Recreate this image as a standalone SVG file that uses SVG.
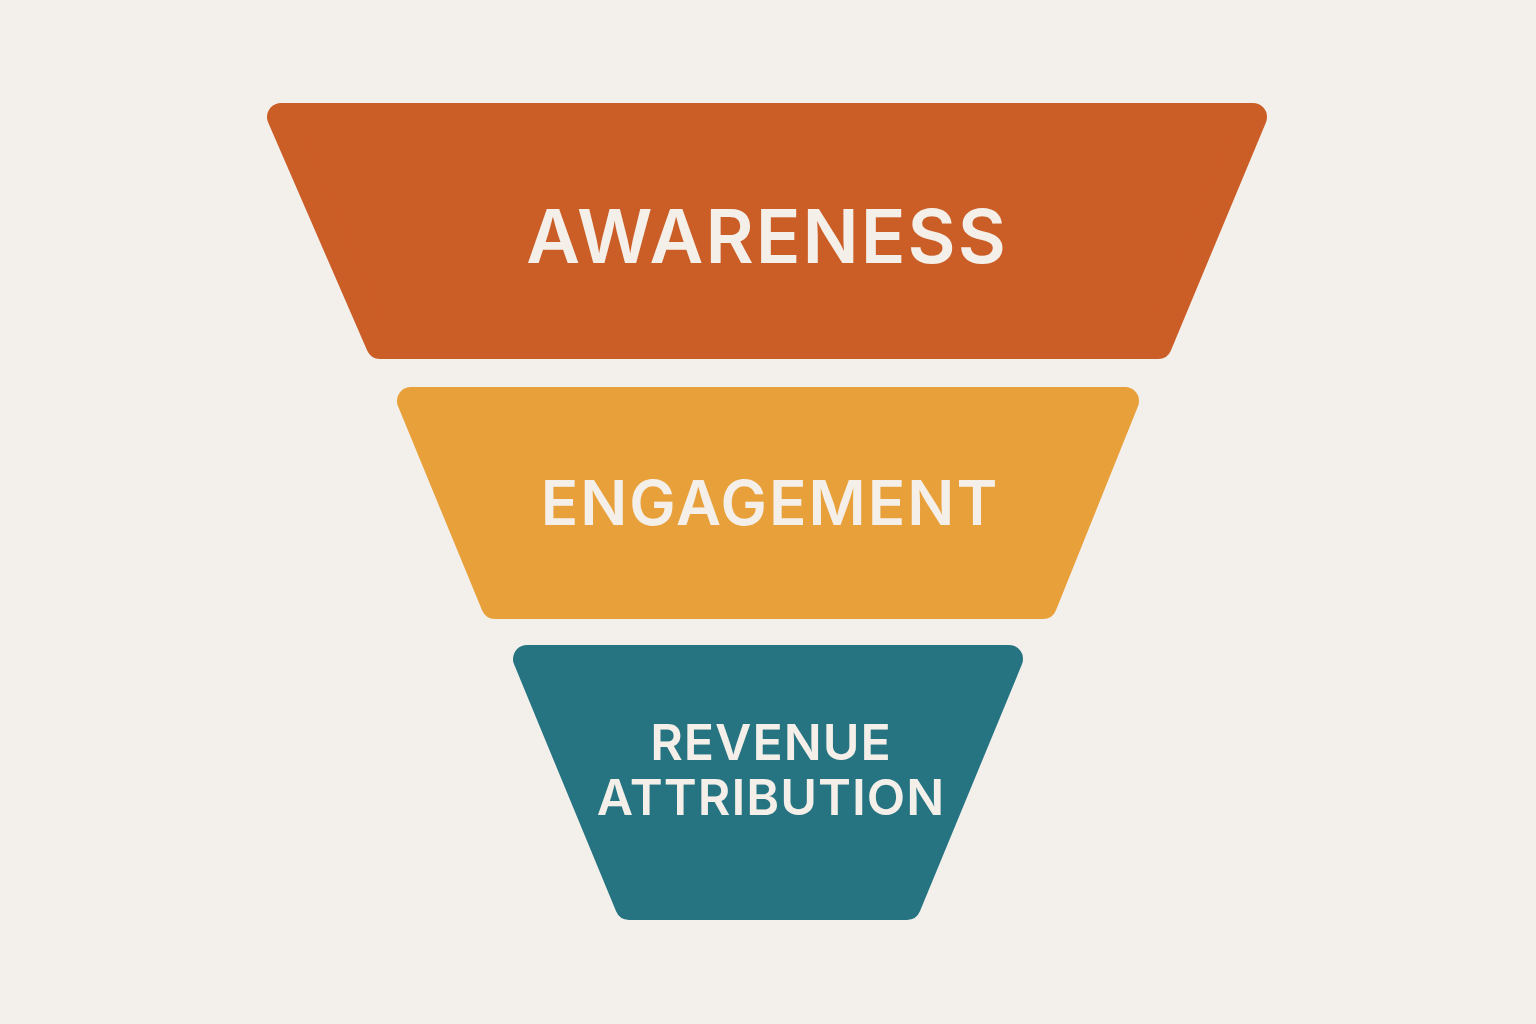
<svg xmlns="http://www.w3.org/2000/svg" width="1536" height="1024" viewBox="0 0 1536 1024">
<style>
.s{stroke-linejoin:round;stroke-width:28}
.t{font-family:Inter,"Liberation Sans",sans-serif;font-weight:600;fill:#F4EFE8;text-anchor:middle;dominant-baseline:central}
</style>
<rect width="1536" height="1024" fill="#F3F0EC"/>
<g id="awareness">
<polygon class="s" points="281,117 1253,117 1158,345 380,345" fill="#CB5D27" stroke="#CB5D27"/>
<text class="t" x="767" y="236" font-size="74" letter-spacing="2">AWARENESS</text>
</g>
<g id="engagement">
<polygon class="s" points="411,401 1125,401 1043,605 495,605" fill="#E8A03A" stroke="#E8A03A"/>
<text class="t" x="770" y="502" font-size="62" letter-spacing="2">ENGAGEMENT</text>
</g>
<g id="revenue">
<polygon class="s" points="527,659 1009,659 907,906 629,906" fill="#267482" stroke="#267482"/>
<text class="t" x="771" y="742" font-size="50" letter-spacing="1">REVENUE</text>
<text class="t" x="771" y="797" font-size="50" letter-spacing="1">ATTRIBUTION</text>
</g>
<g id="connectors"/>
</svg>
